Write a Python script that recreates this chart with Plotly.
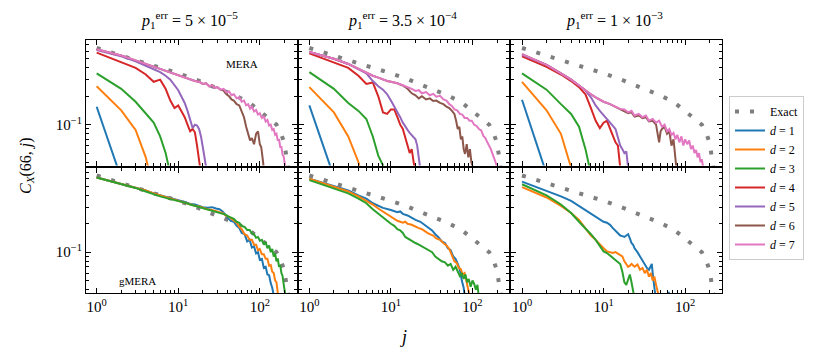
import math
import plotly.graph_objects as go

# ---------------- data ----------------
COL_TITLES = ["<i>p</i><sub>1</sub><sup>err</sup> = 5 × 10<sup>−5</sup>",
              "<i>p</i><sub>1</sub><sup>err</sup> = 3.5 × 10<sup>−4</sup>",
              "<i>p</i><sub>1</sub><sup>err</sup> = 1 × 10<sup>−3</sup>"]
ROW_LABELS = ["MERA", "gMERA"]
X_TICKS = [1, 10, 100]
X_TICKTEXT = ["10<sup>0</sup>", "10<sup>1</sup>", "10<sup>2</sup>"]
Y_TICKS = [0.1]
Y_TICKTEXT = ["10<sup>−1</sup>"]

EXACT_J = [1, 2, 3, 4, 6, 10, 15, 22, 34, 50, 75, 100, 130, 160, 180, 195, 205, 215, 225]
EXACT_C = [0.65, 0.54, 0.49, 0.45, 0.40, 0.35, 0.31, 0.272, 0.236, 0.204, 0.17, 0.14,
           0.118, 0.10, 0.083, 0.068, 0.055, 0.043, 0.033]

# ---- MERA, p = 5e-5 ----
A_D1 = ([1, 2], [0.155, 0.027])
A_D2 = ([1, 2, 3, 4, 5], [0.255, 0.142, 0.088, 0.045, 0.02])
A_D3 = ([1, 2, 3, 4, 5, 6, 7, 8], [0.35, 0.24, 0.175, 0.13, 0.105, 0.075, 0.05, 0.03])
A_D4 = ([1, 2, 3, 4, 5, 6, 7, 8, 9, 10, 11, 12, 13, 14, 15, 16, 17, 18, 19],
        [0.58, 0.46, 0.40, 0.34, 0.285, 0.30, 0.24, 0.18, 0.15, 0.16, 0.14, 0.12, 0.10,
         0.085, 0.09, 0.083, 0.06, 0.04, 0.03])
A_D5 = ([1, 2, 3, 4, 5, 6, 7, 8, 10, 12, 13, 14, 15, 16, 17, 18, 19, 20, 21, 22],
        [0.62, 0.53, 0.47, 0.42, 0.39, 0.36, 0.33, 0.30, 0.232, 0.17, 0.14, 0.115, 0.092,
         0.10, 0.098, 0.09, 0.075, 0.058, 0.045, 0.035])
A_D6 = ([1, 2, 3, 4, 5, 6, 7, 8, 9, 10, 12, 14, 16, 18, 20, 22, 24, 26, 28, 30, 33, 36,
         39, 42, 45, 48, 52, 56, 60, 64, 68, 72, 76, 80, 85, 90, 95, 100, 104, 108, 112],
        [0.63, 0.54, 0.48, 0.44, 0.41, 0.39, 0.37, 0.355, 0.345, 0.335, 0.315, 0.30, 0.29,
         0.285, 0.27, 0.275, 0.255, 0.262, 0.245, 0.25, 0.235, 0.23, 0.21, 0.20, 0.185,
         0.18, 0.165, 0.16, 0.14, 0.12, 0.095, 0.08, 0.068, 0.072, 0.062, 0.08, 0.085,
         0.062, 0.058, 0.045, 0.034])
A_D7 = ([1, 2, 3, 4, 5, 6, 7, 8, 9, 10, 12, 14, 16, 18, 20, 22, 24, 26, 28, 30, 33, 36,
         39, 42, 45, 48, 52, 56, 60, 64, 68, 72, 76, 80, 85, 90, 95, 100, 106, 112, 118,
         124, 130, 136, 142, 148, 154, 160, 166, 172, 178, 184, 190, 196, 202, 208],
        [0.63, 0.54, 0.48, 0.44, 0.41, 0.39, 0.37, 0.355, 0.345, 0.335, 0.315, 0.30, 0.29,
         0.285, 0.27, 0.275, 0.255, 0.262, 0.245, 0.25, 0.235, 0.24, 0.22, 0.225, 0.205,
         0.21, 0.19, 0.195, 0.175, 0.18, 0.16, 0.165, 0.148, 0.155, 0.138, 0.143, 0.128,
         0.132, 0.118, 0.122, 0.108, 0.112, 0.098, 0.10, 0.088, 0.09, 0.078, 0.08, 0.068,
         0.07, 0.058, 0.058, 0.048, 0.046, 0.038, 0.033])

# ---- MERA, p = 3.5e-4 ----
B_D1 = ([1, 2], [0.16, 0.028])
B_D2 = ([1, 2, 3, 4, 5], [0.25, 0.135, 0.075, 0.04, 0.02])
B_D3 = ([1, 2, 3, 4, 5, 6, 7, 8, 9], [0.36, 0.24, 0.17, 0.14, 0.115, 0.075, 0.047, 0.038, 0.03])
B_D4 = ([1, 2, 3, 4, 5, 6, 7, 8, 9, 10, 11, 12, 13, 14, 15, 16, 17, 18, 19, 20],
        [0.57, 0.46, 0.40, 0.33, 0.27, 0.28, 0.20, 0.135, 0.13, 0.145, 0.145, 0.12, 0.10,
         0.09, 0.075, 0.06, 0.05, 0.055, 0.04, 0.03])
B_D5 = ([1, 2, 3, 4, 5, 6, 7, 8, 9, 10, 11, 12, 13, 14, 15, 16, 17, 18, 19, 20, 21, 22, 23],
        [0.59, 0.50, 0.44, 0.39, 0.35, 0.29, 0.255, 0.235, 0.21, 0.18, 0.155, 0.14, 0.12,
         0.105, 0.094, 0.088, 0.082, 0.078, 0.074, 0.07, 0.06, 0.045, 0.033])
B_D6 = ([1, 2, 3, 4, 5, 6, 7, 8, 9, 10, 11, 12, 14, 16, 18, 20, 22, 24, 27, 30, 33, 36,
         40, 44, 48, 52, 56, 60, 63, 66, 69, 72, 75, 78, 81, 85, 89, 93, 97, 101],
        [0.59, 0.50, 0.44, 0.39, 0.36, 0.33, 0.315, 0.30, 0.29, 0.285, 0.282, 0.275, 0.26,
         0.24, 0.215, 0.205, 0.19, 0.20, 0.185, 0.19, 0.178, 0.18, 0.17, 0.165, 0.155,
         0.15, 0.14, 0.13, 0.11, 0.09, 0.095, 0.07, 0.075, 0.055, 0.049, 0.062, 0.045,
         0.055, 0.04, 0.035])
B_D7 = ([1, 2, 3, 4, 5, 6, 7, 8, 9, 10, 11, 12, 14, 16, 18, 20, 22, 24, 27, 30, 33, 36,
         40, 44, 48, 52, 56, 60, 65, 70, 75, 80, 86, 92, 98, 105, 112, 120, 128, 136, 144,
         152, 160, 168, 176, 184, 192, 200],
        [0.59, 0.50, 0.44, 0.39, 0.36, 0.33, 0.315, 0.30, 0.29, 0.285, 0.282, 0.275, 0.262,
         0.252, 0.24, 0.228, 0.232, 0.215, 0.222, 0.205, 0.212, 0.198, 0.202, 0.185, 0.18,
         0.165, 0.158, 0.145, 0.142, 0.13, 0.128, 0.118, 0.118, 0.11, 0.11, 0.10, 0.097,
         0.09, 0.087, 0.076, 0.072, 0.065, 0.06, 0.055, 0.049, 0.045, 0.04, 0.035])

# ---- MERA, p = 1e-3 ----
C_D1 = ([1, 2], [0.184, 0.03])
C_D2 = ([1, 2, 3, 4], [0.284, 0.142, 0.08, 0.035])
C_D3 = ([1, 2, 3, 4, 5, 6, 7], [0.35, 0.235, 0.165, 0.13, 0.095, 0.055, 0.03])
C_D4 = ([1, 2, 3, 4, 5, 6, 7, 8, 9, 10, 11, 12, 13, 14, 15, 16],
        [0.53, 0.41, 0.34, 0.29, 0.25, 0.21, 0.15, 0.11, 0.092, 0.105, 0.11, 0.09, 0.075,
         0.065, 0.06, 0.035])
C_D5 = ([1, 2, 3, 4, 5, 6, 7, 8, 9, 10, 11, 12, 13, 14, 15, 16, 17, 18, 19, 20],
        [0.55, 0.43, 0.35, 0.30, 0.26, 0.23, 0.195, 0.16, 0.14, 0.125, 0.115, 0.105, 0.097,
         0.09, 0.075, 0.06, 0.055, 0.05, 0.052, 0.035])
C_D6 = ([1, 2, 3, 4, 5, 6, 7, 8, 9, 10, 12, 14, 16, 18, 20, 22, 24, 27, 30, 33, 36, 40,
         44, 46, 48, 50, 52, 56, 60, 64, 68, 72, 75, 78],
        [0.56, 0.43, 0.35, 0.30, 0.26, 0.23, 0.21, 0.195, 0.185, 0.175, 0.165, 0.155, 0.147,
         0.14, 0.132, 0.135, 0.122, 0.125, 0.117, 0.12, 0.108, 0.11, 0.10, 0.08, 0.065,
         0.085, 0.09, 0.095, 0.08, 0.085, 0.06, 0.07, 0.045, 0.035])
C_D7 = ([1, 2, 3, 4, 5, 6, 7, 8, 9, 10, 12, 14, 16, 18, 20, 22, 24, 27, 30, 33, 36, 40,
         44, 48, 52, 56, 60, 64, 68, 72, 76, 80, 85, 90, 95, 100, 106, 112, 118, 124, 130,
         136, 142, 148, 154, 160, 166, 172],
        [0.56, 0.43, 0.35, 0.30, 0.26, 0.23, 0.21, 0.195, 0.185, 0.175, 0.165, 0.155, 0.147,
         0.145, 0.135, 0.14, 0.125, 0.13, 0.12, 0.125, 0.11, 0.115, 0.105, 0.11, 0.095, 0.1,
         0.085, 0.09, 0.078, 0.082, 0.07, 0.078, 0.065, 0.075, 0.06, 0.07, 0.062, 0.068,
         0.055, 0.06, 0.05, 0.054, 0.045, 0.05, 0.04, 0.043, 0.035, 0.03])

# ---- gMERA, p = 5e-5 ----
D_D1 = ([1, 2, 3, 4, 5, 6, 8, 10, 12, 14, 16, 18, 20, 23, 26, 29, 32, 35, 38, 41, 44, 48,
         52, 56, 60, 65, 70, 75, 80, 85, 90, 95, 100, 106, 112, 118, 124, 130, 136, 142, 148],
        [0.62, 0.53, 0.48, 0.45, 0.42, 0.40, 0.37, 0.355, 0.34, 0.325, 0.32, 0.31, 0.30,
         0.295, 0.30, 0.29, 0.285, 0.27, 0.245, 0.23, 0.215, 0.21, 0.19, 0.18, 0.16, 0.155,
         0.13, 0.135, 0.112, 0.115, 0.097, 0.1, 0.083, 0.085, 0.068, 0.07, 0.058, 0.057,
         0.047, 0.042, 0.035])
D_D2 = ([1, 2, 3, 4, 5, 6, 8, 10, 12, 14, 16, 18, 20, 23, 26, 29, 32, 35, 38, 41, 44, 48,
         52, 56, 60, 65, 70, 75, 80, 85, 90, 95, 100, 106, 112, 118, 124, 130, 136, 142,
         148, 154, 160, 166, 172],
        [0.62, 0.53, 0.48, 0.45, 0.42, 0.40, 0.37, 0.35, 0.335, 0.32, 0.31, 0.305, 0.295,
         0.285, 0.28, 0.27, 0.265, 0.26, 0.245, 0.24, 0.23, 0.215, 0.205, 0.185, 0.175,
         0.155, 0.15, 0.135, 0.135, 0.12, 0.12, 0.105, 0.108, 0.095, 0.095, 0.085, 0.085,
         0.072, 0.073, 0.062, 0.06, 0.05, 0.048, 0.037, 0.032])
D_D3 = ([1, 2, 3, 4, 5, 6, 8, 10, 12, 14, 16, 18, 20, 23, 26, 29, 32, 35, 38, 41, 44, 48,
         52, 56, 60, 65, 70, 75, 80, 85, 90, 95, 100, 106, 112, 118, 124, 130, 136, 142,
         148, 154, 160, 166, 172, 178, 184, 190, 196, 202, 208],
        [0.62, 0.53, 0.48, 0.44, 0.41, 0.39, 0.365, 0.35, 0.335, 0.32, 0.31, 0.30, 0.29,
         0.28, 0.275, 0.27, 0.26, 0.255, 0.25, 0.24, 0.235, 0.225, 0.21, 0.205, 0.19, 0.185,
         0.172, 0.172, 0.158, 0.155, 0.142, 0.145, 0.132, 0.135, 0.12, 0.128, 0.11, 0.118,
         0.1, 0.108, 0.09, 0.097, 0.08, 0.086, 0.07, 0.073, 0.06, 0.056, 0.046, 0.04, 0.033])

# ---- gMERA, p = 3.5e-4 ----
E_D1 = ([1, 2, 3, 4, 5, 6, 7, 8, 10, 12, 13, 14, 16, 18, 20, 23, 26, 29, 32, 35, 38, 42,
         46, 50, 54, 58, 62, 66, 70, 74, 78, 80],
        [0.60, 0.50, 0.45, 0.40, 0.37, 0.33, 0.31, 0.295, 0.28, 0.265, 0.27, 0.255, 0.245,
         0.23, 0.22, 0.21, 0.195, 0.18, 0.17, 0.155, 0.145, 0.13, 0.125, 0.11, 0.105, 0.09,
         0.085, 0.075, 0.065, 0.05, 0.042, 0.035])
E_D2 = ([1, 2, 3, 4, 5, 6, 7, 8, 9, 10, 11, 12, 13, 14, 15, 16, 18, 20, 22, 24, 26, 28,
         30, 33, 36, 40, 44, 48, 52, 56, 60, 64, 68, 72, 76, 80, 84, 88, 92],
        [0.60, 0.49, 0.44, 0.39, 0.35, 0.32, 0.29, 0.27, 0.25, 0.235, 0.225, 0.215, 0.21,
         0.205, 0.21, 0.2, 0.195, 0.185, 0.18, 0.175, 0.165, 0.16, 0.155, 0.15, 0.14, 0.135,
         0.125, 0.118, 0.108, 0.09, 0.08, 0.077, 0.068, 0.066, 0.058, 0.06, 0.05, 0.042,
         0.035])
E_D3 = ([1, 2, 3, 4, 5, 6, 7, 8, 9, 10, 11, 12, 13, 14, 15, 16, 18, 20, 22, 24, 26, 29,
         32, 35, 38, 42, 46, 50, 54, 58, 62, 66, 70, 74, 78, 82, 86, 90, 95, 100, 105, 110,
         115, 118, 122],
        [0.58, 0.47, 0.42, 0.37, 0.33, 0.285, 0.255, 0.235, 0.215, 0.20, 0.19, 0.175, 0.17,
         0.16, 0.145, 0.14, 0.13, 0.125, 0.12, 0.115, 0.11, 0.105, 0.1, 0.09, 0.085, 0.08,
         0.078, 0.072, 0.075, 0.065, 0.07, 0.063, 0.056, 0.06, 0.052, 0.058, 0.048, 0.052,
         0.043, 0.05, 0.046, 0.04, 0.045, 0.037, 0.033])

# ---- gMERA, p = 1e-3 ----
F_D1 = ([1, 2, 3, 4, 5, 6, 7, 8, 9, 10, 11, 12, 13, 14, 15, 16, 17, 18, 19, 20, 21, 22,
         23, 24, 26, 28, 30, 32, 34, 36, 38, 39, 40, 42, 43, 44, None, 60, 63, 66],
        [0.56, 0.45, 0.39, 0.35, 0.31, 0.28, 0.26, 0.24, 0.225, 0.21, 0.205, 0.195, 0.18,
         0.17, 0.16, 0.15, 0.148, 0.145, 0.15, 0.155, 0.14, 0.125, 0.12, 0.11, 0.1, 0.09,
         0.08, 0.075, 0.068, 0.065, 0.072, 0.075, 0.06, 0.045, 0.037, 0.03, None, 0.03,
         0.038, 0.03])
F_D2 = ([1, 2, 3, 4, 5, 6, 7, 8, 9, 10, 11, 12, 13, 14, 15, 16, 17, 18, 19, 20, 21, 22,
         24, 26, 28, 30, 32, 34, 36, 38, 40, 42, 44, 46, 48],
        [0.49, 0.38, 0.31, 0.26, 0.22, 0.18, 0.15, 0.135, 0.12, 0.11, 0.102, 0.10, 0.098,
         0.1, 0.096, 0.094, 0.09, 0.08, 0.075, 0.07, 0.072, 0.075, 0.07, 0.074, 0.065,
         0.068, 0.06, 0.065, 0.055, 0.06, 0.05, 0.055, 0.045, 0.04, 0.033])
F_D3 = ([1, 2, 3, 4, 5, 6, 7, 8, 9, 10, 11, 12, 13, 14, 15, 16, 17, 18, 19, 20, 21, 22,
         23, 24],
        [0.525, 0.40, 0.32, 0.26, 0.21, 0.18, 0.155, 0.135, 0.115, 0.102, 0.098, 0.092,
         0.088, 0.083, 0.08, 0.075, 0.062, 0.048, 0.045, 0.052, 0.058, 0.048, 0.038, 0.032])

PANELS = [
    [A_D1, A_D2, A_D3, A_D4, A_D5, A_D6, A_D7],
    [B_D1, B_D2, B_D3, B_D4, B_D5, B_D6, B_D7],
    [C_D1, C_D2, C_D3, C_D4, C_D5, C_D6, C_D7],
    [D_D1, D_D2, D_D3],
    [E_D1, E_D2, E_D3],
    [F_D1, F_D2, F_D3],
]

COLORS = ["#1f77b4", "#ff7f0e", "#2ca02c", "#d62728", "#9467bd", "#8c564b", "#e377c2"]
EXACT_COLOR = "#7f7f7f"
FONT = "Liberation Serif"

# ---------------- layout geometry ----------------
# The page body keeps its default 8px margin, so the figure starts at (8, 8).
OFF = 8
W, H = 830 - OFF, 358 - OFF
ML, MT = 86 - OFF, 40 - OFF
PW, PH = 636, 253
MR = W - ML - PW
MB = H - MT - PH
GAP = 2
colw = (PW - 2 * GAP) / 3
x_domains = [[0, colw / PW], [(colw + GAP) / PW, (2 * colw + GAP) / PW],
             [(2 * colw + 2 * GAP) / PW, 1]]
rowh = (PH - GAP) / 2
y_domains = [[(rowh + GAP) / PH, 1], [0, rowh / PH]]


def px(xpage):
    return (xpage - OFF - ML) / PW


def py(ypage):
    return (MT + PH - (ypage - OFF)) / PH


XR = [math.log10(0.74), math.log10(283)]
YR = [math.log10(0.0369), math.log10(0.79)]

x_minor = [m * 10 ** k for k in range(0, 3) for m in range(2, 10) if m * 10 ** k < 283]
y_minor = [m * 10 ** k for k in (-2, -1) for m in range(2, 10) if 0.0369 < m * 10 ** k < 0.79]

fig = go.Figure()

for p, series in enumerate(PANELS):
    n = p + 1
    xa = "x" if n == 1 else f"x{n}"
    ya = "y" if n == 1 else f"y{n}"
    fig.add_trace(go.Scatter(
        x=EXACT_J, y=EXACT_C, mode="lines", xaxis=xa, yaxis=ya,
        line=dict(color=EXACT_COLOR, width=4, dash="4px,11px"),
        name="Exact", legendgroup="exact", showlegend=(n == 1)))
    for d, (jj, cc) in enumerate(series):
        fig.add_trace(go.Scatter(
            x=jj, y=cc, mode="lines", xaxis=xa, yaxis=ya,
            line=dict(color=COLORS[d], width=2),
            name=f"<i>d</i> = {d + 1}", legendgroup=f"d{d + 1}",
            showlegend=(n == 1), connectgaps=False))

axis_common = dict(type="log", showline=True, linecolor="black", linewidth=1,
                   mirror="ticks", ticks="inside", ticklen=5, tickwidth=1,
                   tickcolor="black", showgrid=False, zeroline=False, automargin=False,
                   tickfont=dict(family=FONT, size=15, color="black"))

layout = dict(
    template="none",
    width=W, height=H, margin=dict(l=ML, r=MR, t=MT, b=MB, autoexpand=False),
    paper_bgcolor="white", plot_bgcolor="white",
    font=dict(family=FONT, color="black"),
    legend=dict(x=px(729), y=py(96), xanchor="left", yanchor="top",
                bgcolor="white", bordercolor="#cccccc", borderwidth=1,
                font=dict(family=FONT, size=12, color="black"),
                tracegroupgap=0, itemwidth=30),
)

for p in range(6):
    n = p + 1
    r, c = divmod(p, 3)
    xname = "xaxis" if n == 1 else f"xaxis{n}"
    yname = "yaxis" if n == 1 else f"yaxis{n}"
    layout[xname] = dict(axis_common, domain=x_domains[c], range=XR,
                         anchor="y" if n == 1 else f"y{n}",
                         tickvals=X_TICKS, ticktext=X_TICKTEXT,
                         showticklabels=(r == 1),
                         minor=dict(tickvals=x_minor, ticks="inside", ticklen=3,
                                    tickcolor="black", showgrid=False))
    layout[yname] = dict(axis_common, domain=y_domains[r], range=YR,
                         anchor="x" if n == 1 else f"x{n}",
                         tickvals=Y_TICKS, ticktext=Y_TICKTEXT,
                         showticklabels=(c == 0),
                         minor=dict(tickvals=y_minor, ticks="inside", ticklen=3,
                                    tickcolor="black", showgrid=False))

fig.update_layout(**layout)


def label(text, xpage, ypage, size, angle=0):
    return dict(text=text, x=px(xpage), y=py(ypage), xref="paper", yref="paper",
                xanchor="center", yanchor="middle", showarrow=False, textangle=angle,
                font=dict(family=FONT, size=size, color="black"))


annotations = []
col_centers = [189, 402, 614]
for c, t in enumerate(COL_TITLES):
    annotations.append(label(t, col_centers[c], 20, 16))
annotations.append(label(ROW_LABELS[0], 242, 64, 11))
annotations.append(label(ROW_LABELS[1], 137, 281, 11))
annotations.append(label("<i>j</i>", 403, 337, 18))
annotations.append(label("<i>C</i><sub><i>X</i></sub>(66, <i>j</i>)", 26, 165, 16, -90))
fig.update_layout(annotations=annotations)

fig.write_html("out.html")
